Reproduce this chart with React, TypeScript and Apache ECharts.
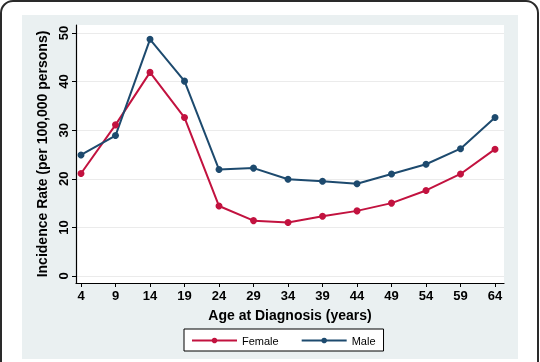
import React, { useEffect, useRef } from "react";
import * as echarts from "echarts";

const ages = [4, 9, 14, 19, 24, 29, 34, 39, 44, 49, 54, 59, 64];
const female = [21.1, 31.1, 41.9, 32.6, 14.4, 11.4, 11.0, 12.3, 13.4, 15.0, 17.6, 21.0, 26.1];
const male = [24.9, 28.9, 48.7, 40.1, 21.9, 22.2, 19.9, 19.5, 19.0, 21.0, 23.0, 26.2, 32.6];
const yTicks = [0, 10, 20, 30, 40, 50];
const xTicks = [4, 9, 14, 19, 24, 29, 34, 39, 44, 49, 54, 59, 64];

const FONT = '"Liberation Sans", Arial, Helvetica, sans-serif';
const RED = "#c2123f";
const BLUE = "#1d4a6e";

export default function App() {
  const ref = useRef<HTMLDivElement>(null);
  useEffect(() => {
    if (!ref.current) return;
    const chart = echarts.init(ref.current, null, { renderer: "svg" });
    chart.setOption({
      animation: false,
      textStyle: { fontFamily: FONT },
      graphic: [
        {
          type: "rect",
          z: -10,
          shape: { x: 1, y: 1, width: 537, height: 420, r: 12 },
          style: { fill: "#fff", stroke: "#2a2a2a", lineWidth: 2 },
          silent: true,
        },
        {
          type: "rect",
          z: -9,
          shape: { x: 22, y: 15, width: 496, height: 344 },
          style: { fill: "#eaf0f1" },
          silent: true,
        },
      ],
      grid: {
        left: 76,
        right: 36,
        top: 25,
        bottom: 79,
        show: true,
        backgroundColor: "#ffffff",
        borderWidth: 0,
      },
      legend: {
        left: 184,
        top: 329,
        padding: [6, 8, 5, 7],
        itemGap: 22,
        itemWidth: 45,
        itemHeight: 7,
        borderColor: "#000",
        borderWidth: 1,
        borderRadius: 0,
        backgroundColor: "#fff",
        textStyle: { fontSize: 11, color: "#000", fontFamily: FONT },
        data: ["Female", "Male"],
      },
      xAxis: {
        type: "value",
        min: 3.275,
        max: 65.3,
        name: "Age at Diagnosis (years)",
        nameLocation: "middle",
        nameGap: 25,
        nameTextStyle: { fontSize: 14, fontWeight: "bold", color: "#000", fontFamily: FONT },
        axisLine: { show: true, onZero: false, lineStyle: { color: "#000", width: 1.2 } },
        axisTick: { show: true, customValues: xTicks, length: 4, lineStyle: { color: "#000" } },
        axisLabel: {
          customValues: xTicks,
          fontSize: 13,
          fontWeight: "bold",
          color: "#000",
          margin: 6,
          fontFamily: FONT,
        },
        splitLine: { show: false },
      },
      yAxis: {
        type: "value",
        min: -1.44,
        max: 51.65,
        name: "Incidence Rate (per 100,000 persons)",
        nameLocation: "middle",
        nameRotate: 90,
        nameGap: 26,
        nameTextStyle: { fontSize: 14, fontWeight: "bold", color: "#000", fontFamily: FONT },
        axisLine: { show: true, lineStyle: { color: "#000", width: 1.2 } },
        axisTick: { show: true, customValues: yTicks, length: 4, lineStyle: { color: "#000" } },
        axisLabel: {
          customValues: yTicks,
          rotate: 90,
          fontSize: 13,
          fontWeight: "bold",
          color: "#000",
          margin: 6,
          fontFamily: FONT,
        },
        splitLine: { show: true, lineStyle: { color: "#ebebeb", width: 1 } },
      },
      series: [
        {
          name: "Female",
          type: "line",
          data: ages.map((a, i) => [a, female[i]]),
          symbol: "circle",
          symbolSize: 7,
          itemStyle: { color: RED },
          lineStyle: { color: RED, width: 2 },
        },
        {
          name: "Male",
          type: "line",
          data: ages.map((a, i) => [a, male[i]]),
          symbol: "circle",
          symbolSize: 7,
          itemStyle: { color: BLUE },
          lineStyle: { color: BLUE, width: 2 },
        },
      ],
    });
    return () => chart.dispose();
  }, []);
  return (
    <div
      ref={ref}
      style={{ position: "fixed", left: 0, top: 0, width: 540, height: 362 }}
    />
  );
}
